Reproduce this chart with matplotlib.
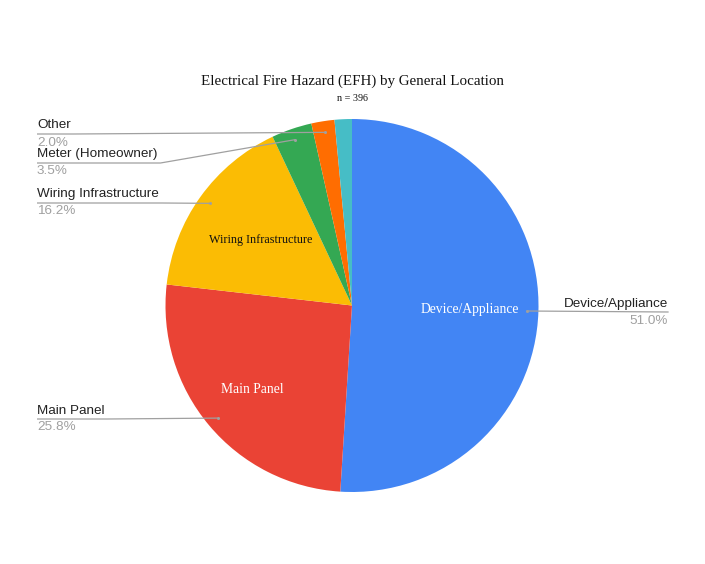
import numpy as np
import matplotlib
matplotlib.use("Agg")
import matplotlib.pyplot as plt

# ---- data ----
categories = ["Device/Appliance", "Main Panel", "Wiring Infrastructure",
              "Meter (Homeowner)", "Other", "Meter (Utility)"]
values = [51.0, 25.8, 16.2, 3.5, 2.0, 1.5]
colors = ["#4285F4", "#EA4335", "#FBBC04", "#34A853", "#FF6D01", "#46BDC6"]
title = "Electrical Fire Hazard (EFH) by General Location"
subtitle = "n = 396"
outside_labelled = [True, True, True, True, True, False]
inside_labelled = [True, True, True, False, False, False]

W, H = 705, 564
fig = plt.figure(figsize=(W / 100, H / 100), dpi=100)
ax = fig.add_axes([0, 0, 1, 1])

cx, cy, R = 352, H - 305.5, 186.5
wedges, _ = ax.pie(values, colors=colors, startangle=90, counterclock=False,
                   center=(cx, cy), radius=R, frame=True,
                   wedgeprops=dict(linewidth=0))
ax.set_xlim(0, W)
ax.set_ylim(0, H)
ax.set_aspect("equal")
ax.axis("off")

serif = "Liberation Serif"
sans = "Liberation Sans"

ax.text(352.5, H - 81, title, ha="center", va="center", fontsize=10.8,
        family=serif, color="#111111")
ax.text(352.5, H - 98.5, subtitle, ha="center", va="center", fontsize=7.3,
        family=serif, color="#111111")

total = sum(values)
cum = np.cumsum([0] + values[:-1])
mids = [90 - (c + v / 2) / total * 360 for c, v in zip(cum, values)]

# inside labels
inside_frac = [0.63, 0.70, 0.60]
inside_col = ["white", "white", "#111111"]
inside_fs = [9.8, 9.8, 8.7]
k = 0
for i, name in enumerate(categories):
    if not inside_labelled[i]:
        continue
    a = np.deg2rad(mids[i])
    r = inside_frac[k] * R
    ax.text(cx + r * np.cos(a), cy + r * np.sin(a), name, ha="center",
            va="center", fontsize=inside_fs[k], family=serif,
            color=inside_col[k])
    k += 1

# outside labels (text anchor positions, pixel coords from top)
label_pos = {
    "Device/Appliance": (668, 312, "right"),
    "Main Panel": (37, 419, "left"),
    "Wiring Infrastructure": (37, 203, "left"),
    "Meter (Homeowner)": (37, 163, "left"),
    "Other": (37, 134, "left"),
}
line_col = "#a0a0a0"
renderer = fig.canvas.get_renderer()
for i, name in enumerate(categories):
    if not outside_labelled[i]:
        continue
    a = np.deg2rad(mids[i])
    dx, dy = cx + 0.94 * R * np.cos(a), cy + 0.94 * R * np.sin(a)
    x, yp, side = label_pos[name]
    y = H - yp
    t = ax.text(x, y + 2.5, name, ha=side, va="bottom", fontsize=9.7,
                family=sans, color="#222222")
    ax.text(x, y - 2.5, f"{values[i]:.1f}%", ha=side, va="top", fontsize=9.7,
            family=sans, color="#a0a0a0")
    bb = t.get_window_extent(renderer=renderer)
    if side == "left":
        xe = bb.x1 + 3
        if xe < dx:
            ax.plot([x, xe, dx], [y, y, dy], color=line_col, lw=0.9,
                    solid_capstyle="butt")
        else:
            ax.plot([x, dx], [y, dy], color=line_col, lw=0.9)
    else:
        ax.plot([dx, x], [dy, y], color=line_col, lw=0.9)
    ax.plot(dx, dy, "o", ms=2.2, color=line_col, mec="none")

fig.savefig("out.png", dpi=100)
